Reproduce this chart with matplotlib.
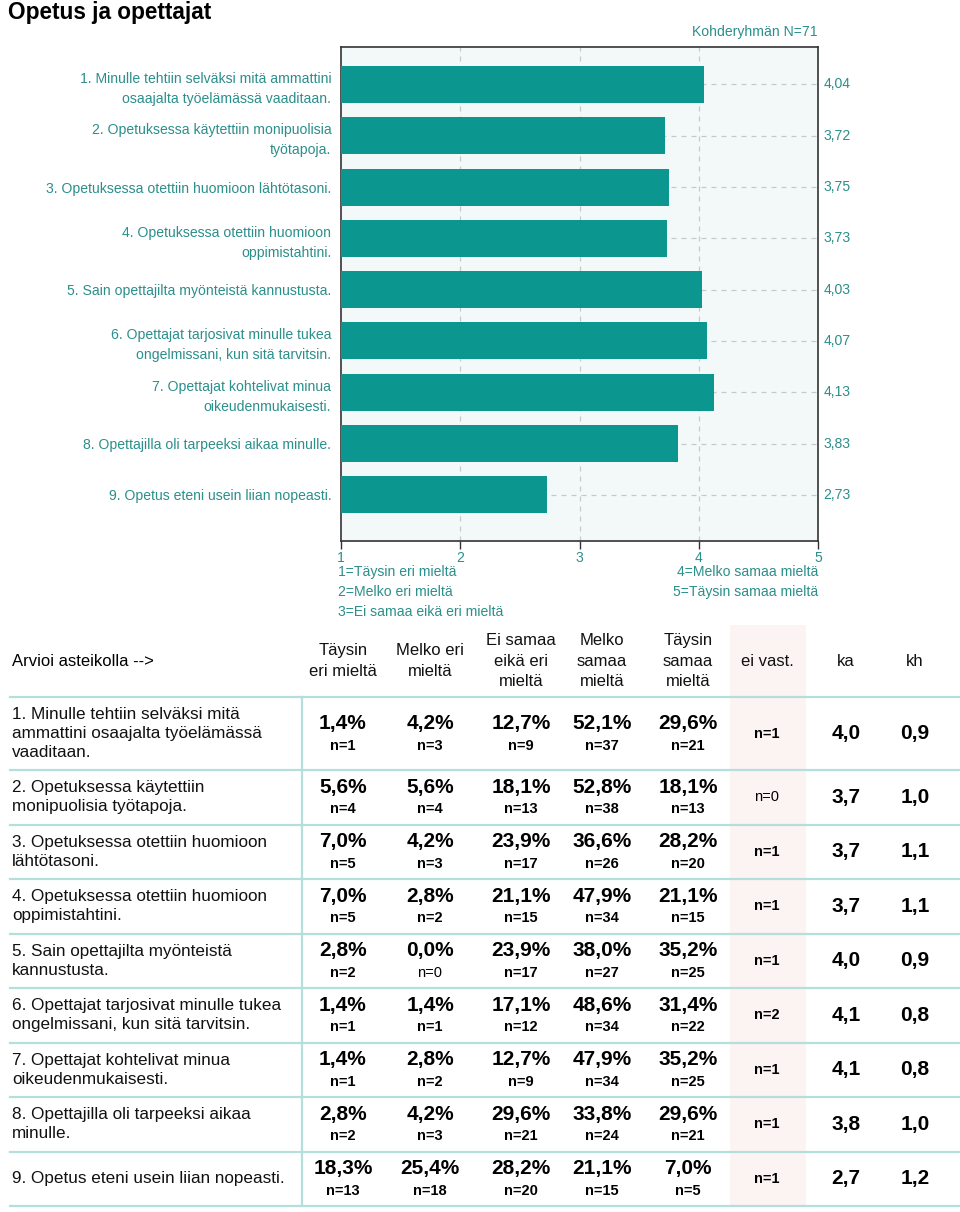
import matplotlib
matplotlib.use("Agg")
import matplotlib.pyplot as plt
from matplotlib.patches import Rectangle
from matplotlib.lines import Line2D

plt.rcParams['font.family'] = ['Liberation Sans', 'DejaVu Sans']

# ---------------- data ----------------
chart_labels = [
    "1. Minulle tehtiin selväksi mitä ammattini\nosaajalta työelämässä vaaditaan.",
    "2. Opetuksessa käytettiin monipuolisia\ntyötapoja.",
    "3. Opetuksessa otettiin huomioon lähtötasoni.",
    "4. Opetuksessa otettiin huomioon\noppimistahtini.",
    "5. Sain opettajilta myönteistä kannustusta.",
    "6. Opettajat tarjosivat minulle tukea\nongelmissani, kun sitä tarvitsin.",
    "7. Opettajat kohtelivat minua\noikeudenmukaisesti.",
    "8. Opettajilla oli tarpeeksi aikaa minulle.",
    "9. Opetus eteni usein liian nopeasti.",
]
means = [4.04, 3.72, 3.75, 3.73, 4.03, 4.07, 4.13, 3.83, 2.73]
mean_labels = ["4,04", "3,72", "3,75", "3,73", "4,03", "4,07", "4,13", "3,83", "2,73"]
x_ticks = [1, 2, 3, 4, 5]
scale_legend_left = ["1=Täysin eri mieltä", "2=Melko eri mieltä", "3=Ei samaa eikä eri mieltä"]
scale_legend_right = ["4=Melko samaa mieltä", "5=Täysin samaa mieltä"]
n_total_label = "Kohderyhmän N=71"

table_labels = [
    "1. Minulle tehtiin selväksi mitä\nammattini osaajalta työelämässä\nvaaditaan.",
    "2. Opetuksessa käytettiin\nmonipuolisia työtapoja.",
    "3. Opetuksessa otettiin huomioon\nlähtötasoni.",
    "4. Opetuksessa otettiin huomioon\noppimistahtini.",
    "5. Sain opettajilta myönteistä\nkannustusta.",
    "6. Opettajat tarjosivat minulle tukea\nongelmissani, kun sitä tarvitsin.",
    "7. Opettajat kohtelivat minua\noikeudenmukaisesti.",
    "8. Opettajilla oli tarpeeksi aikaa\nminulle.",
    "9. Opetus eteni usein liian nopeasti.",
]
col_headers = ["Täysin\neri mieltä", "Melko eri\nmieltä", "Ei samaa\neikä eri\nmieltä",
               "Melko\nsamaa\nmieltä", "Täysin\nsamaa\nmieltä", "ei vast.", "ka", "kh"]
pct = [
    ["1,4%", "4,2%", "12,7%", "52,1%", "29,6%"],
    ["5,6%", "5,6%", "18,1%", "52,8%", "18,1%"],
    ["7,0%", "4,2%", "23,9%", "36,6%", "28,2%"],
    ["7,0%", "2,8%", "21,1%", "47,9%", "21,1%"],
    ["2,8%", "0,0%", "23,9%", "38,0%", "35,2%"],
    ["1,4%", "1,4%", "17,1%", "48,6%", "31,4%"],
    ["1,4%", "2,8%", "12,7%", "47,9%", "35,2%"],
    ["2,8%", "4,2%", "29,6%", "33,8%", "29,6%"],
    ["18,3%", "25,4%", "28,2%", "21,1%", "7,0%"],
]
counts = [
    [1, 3, 9, 37, 21],
    [4, 4, 13, 38, 13],
    [5, 3, 17, 26, 20],
    [5, 2, 15, 34, 15],
    [2, 0, 17, 27, 25],
    [1, 1, 12, 34, 22],
    [1, 2, 9, 34, 25],
    [2, 3, 21, 24, 21],
    [13, 18, 20, 15, 5],
]
no_answer = [1, 0, 1, 1, 1, 2, 1, 1, 1]
ka = ["4,0", "3,7", "3,7", "3,7", "4,0", "4,1", "4,1", "3,8", "2,7"]
kh = ["0,9", "1,0", "1,1", "1,1", "0,9", "0,8", "0,8", "1,0", "1,2"]

# ---------------- figure ----------------
W, H = 960, 1212
fig = plt.figure(figsize=(W / 100, H / 100), dpi=100)
fig.patch.set_facecolor("white")

def fx(x):
    return x / W

def fy(y):
    return 1 - y / H

TEAL = "#0b9690"
TXT_TEAL = "#2b8f8b"
LINE = "#b4dfdc"
SMALL = 10.1

fig.text(fx(8), fy(19), "Opetus ja opettajat", fontsize=16.3, fontweight="bold",
         ha="left", va="baseline", color="black")

# chart axes
ax_l, ax_r, ax_t, ax_b = 341, 818, 47, 541
ax = fig.add_axes([fx(ax_l), fy(ax_b), (ax_r - ax_l) / W, (ax_b - ax_t) / H])
ax.set_facecolor("#f3f9f9")
ypos = list(range(len(means)))
ax.barh(ypos, [m - x_ticks[0] for m in means], left=x_ticks[0], height=0.72,
        color=TEAL, zorder=3)
ax.set_xlim(x_ticks[0], x_ticks[-1])
ax.set_ylim(len(means) - 1 + 0.9, -0.73)
for x in x_ticks[1:-1]:
    ax.axvline(x, color="#c8c8c8", lw=0.9, ls=(0, (4, 4)), zorder=1)
for y in ypos:
    ax.axhline(y, color="#c8c8c8", lw=0.9, ls=(0, (4, 4)), zorder=1)
ax.set_yticks(ypos)
ax.set_yticklabels(chart_labels, fontsize=SMALL, color=TXT_TEAL, linespacing=1.55)
ax.tick_params(axis="y", length=0, pad=7)
ax.set_xticks(x_ticks)
ax.set_xticklabels([str(t) for t in x_ticks], fontsize=SMALL, color=TXT_TEAL)
ax.tick_params(axis="x", length=6, width=1, color="#333333", direction="out", pad=1)
for s in ax.spines.values():
    s.set_color("#333333")
    s.set_linewidth(1.2)
for y, lab in zip(ypos, mean_labels):
    ax.text(1.011, y, lab, transform=ax.get_yaxis_transform(), fontsize=SMALL,
            color=TXT_TEAL, ha="left", va="center")

fig.text(fx(818), fy(32), n_total_label, fontsize=SMALL, color=TXT_TEAL, ha="right", va="center")
for i, t in enumerate(scale_legend_left):
    fig.text(fx(338), fy(572 + 20 * i), t, fontsize=SMALL, color=TXT_TEAL, ha="left", va="center")
for i, t in enumerate(scale_legend_right):
    fig.text(fx(818), fy(572 + 20 * i), t, fontsize=SMALL, color=TXT_TEAL, ha="right", va="center")

# ---------------- table ----------------
col_x = [343, 430, 521, 602, 688, 767, 846, 915]
header_y = 661
row_bounds = [697, 770] + [770 + 54.5 * i for i in range(1, 9)]

# pink column
fig.patches.append(Rectangle((fx(730), fy(1206)), (806 - 730) / W, (1206 - 625) / H,
                             transform=fig.transFigure, facecolor="#fcf3f3",
                             edgecolor="none", zorder=0))
for yb in row_bounds:
    fig.lines.append(Line2D([fx(10), fx(960)], [fy(yb), fy(yb)], transform=fig.transFigure,
                            color=LINE, lw=1.6, zorder=1))
fig.lines.append(Line2D([fx(302), fx(302)], [fy(697), fy(1206)], transform=fig.transFigure,
                        color=LINE, lw=1.6, zorder=1))

fig.text(fx(12), fy(header_y), "Arvioi asteikolla -->", fontsize=12, ha="left", va="center")
for x, h in zip(col_x, col_headers):
    fig.text(fx(x), fy(header_y), h, fontsize=12, ha="center", va="center",
             linespacing=1.45, color="#111111")

for r in range(len(table_labels)):
    yc = (row_bounds[r] + row_bounds[r + 1]) / 2
    fig.text(fx(12), fy(yc), table_labels[r], fontsize=12.3, ha="left", va="center",
             linespacing=1.3, color="#111111")
    for c in range(5):
        fig.text(fx(col_x[c]), fy(yc - 10), pct[r][c], fontsize=15, fontweight="bold",
                 ha="center", va="center")
        n = counts[r][c]
        fig.text(fx(col_x[c]), fy(yc + 12), f"n={n}", fontsize=10.5,
                 fontweight="bold" if n > 0 else "normal", ha="center", va="center")
    na = no_answer[r]
    fig.text(fx(col_x[5]), fy(yc), f"n={na}", fontsize=10.5,
             fontweight="bold" if na > 0 else "normal", ha="center", va="center")
    fig.text(fx(col_x[6]), fy(yc), ka[r], fontsize=15, fontweight="bold", ha="center", va="center")
    fig.text(fx(col_x[7]), fy(yc), kh[r], fontsize=15, fontweight="bold", ha="center", va="center")

fig.savefig("out.png", dpi=100)
